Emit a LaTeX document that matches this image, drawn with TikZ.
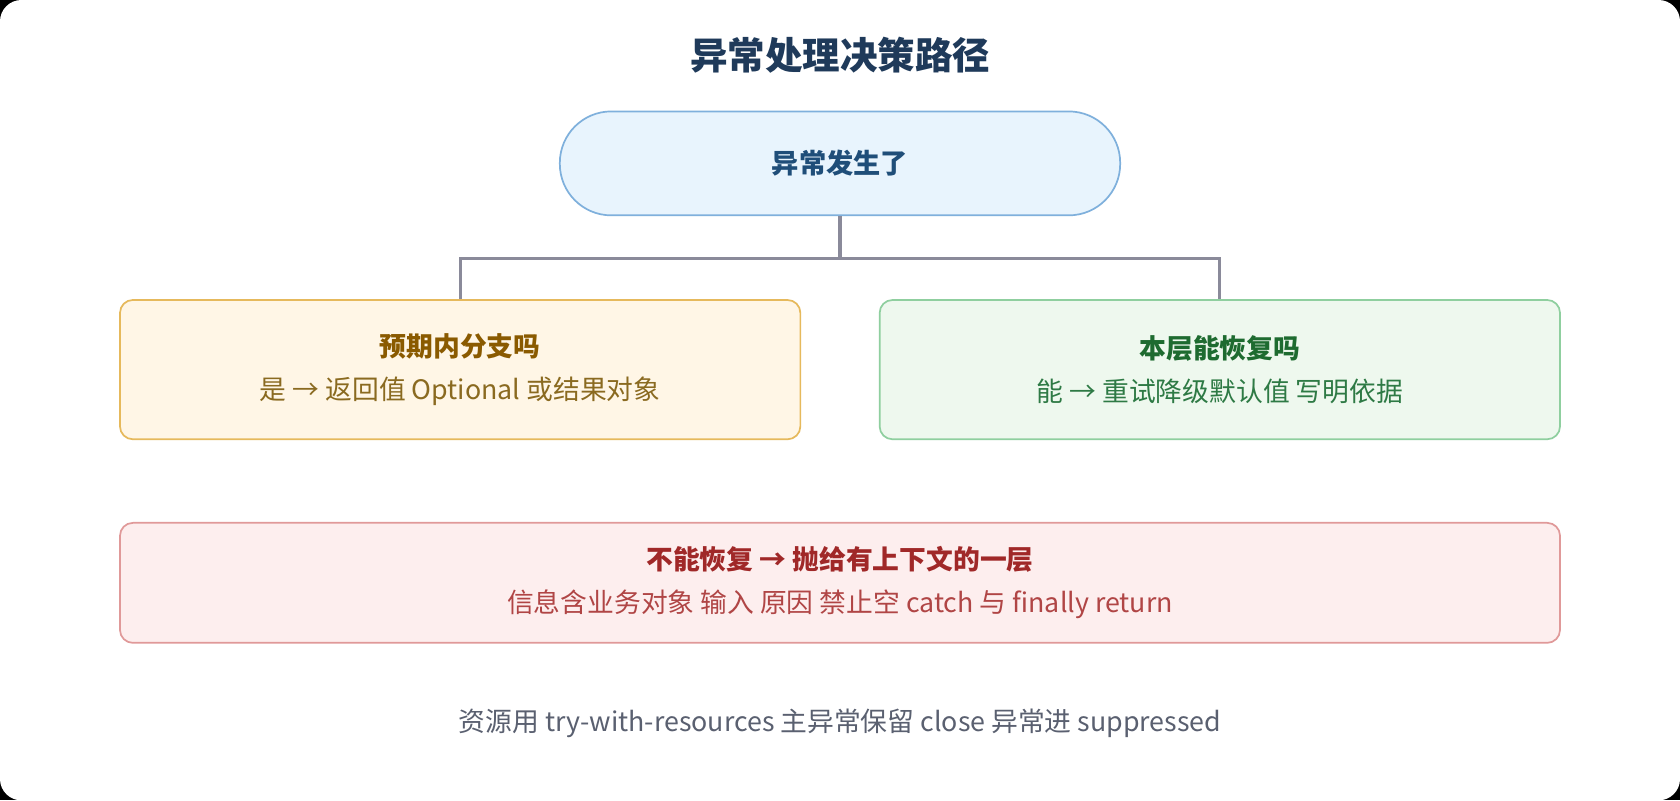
\documentclass[tikz,border=0pt]{standalone}
\usepackage{fontspec}
\setmainfont{Noto Sans CJK SC}
\usetikzlibrary{positioning}
\definecolor{titlec}{HTML}{1F3A5A}
\definecolor{linec}{HTML}{8A8A9A}
\definecolor{startfill}{HTML}{E8F4FD}
\definecolor{startdraw}{HTML}{7FB0DC}
\definecolor{starttext}{HTML}{1F4E79}
\definecolor{yfill}{HTML}{FFF6E6}
\definecolor{ydraw}{HTML}{E6B95C}
\definecolor{ytitle}{HTML}{8A5A00}
\definecolor{ytext}{HTML}{8A6A20}
\definecolor{gfill}{HTML}{EEF8EE}
\definecolor{gdraw}{HTML}{8FCF9F}
\definecolor{gtitle}{HTML}{1E6B30}
\definecolor{gtext}{HTML}{2E7A45}
\definecolor{rfill}{HTML}{FDEEEE}
\definecolor{rdraw}{HTML}{E09999}
\definecolor{rtitle}{HTML}{A02828}
\definecolor{rtext}{HTML}{B04545}
\definecolor{notec}{HTML}{5A6070}
\tikzset{
  box/.style={draw, line width=0.8pt, rounded corners=6pt, align=center, inner sep=0pt},
  link/.style={draw=linec, line width=1.5pt},
}
\begin{document}
\begin{tikzpicture}[x=0.5pt,y=-0.5pt]
   \fill[black] (0,0) rectangle (1568,747);
   \fill[white, rounded corners=10pt] (0,0) rectangle (1568,747);
   \useasboundingbox (0,0) rectangle (1568,747);
   \node[text=titlec, font=\fontsize{17.5}{20}\selectfont\bfseries] (title) at (784,52) {异常处理决策路径};
   \node[box, fill=startfill, draw=startdraw, rounded corners=24pt, minimum width=261.5pt, minimum height=48.5pt,
         text=starttext, font=\fontsize{12.7}{15}\selectfont\bfseries] (start) at (784,152.5) {异常发生了};
   \node[box, fill=yfill, draw=ydraw, minimum width=317.5pt, minimum height=65pt] (expect) at (429.5,345)
        {{\color{ytitle}\fontsize{12.5}{15}\selectfont\bfseries 预期内分支吗}\\[8pt]
         {\color{ytext}\fontsize{12.5}{15}\selectfont 是 → 返回值 Optional 或结果对象}};
   \node[box, fill=gfill, draw=gdraw, minimum width=317.5pt, minimum height=65pt] (recover) at (1138.5,345)
        {{\color{gtitle}\fontsize{12.5}{15}\selectfont\bfseries 本层能恢复吗}\\[8pt]
         {\color{gtext}\fontsize{12.5}{15}\selectfont 能 → 重试降级默认值 写明依据}};
   \node[box, fill=rfill, draw=rdraw, minimum width=672pt, minimum height=56pt] (throw) at (784,544)
        {{\color{rtitle}\fontsize{12.5}{15}\selectfont\bfseries 不能恢复 → 抛给有上下文的一层}\\[8pt]
         {\color{rtext}\fontsize{12.5}{15}\selectfont 信息含业务对象 输入 原因 禁止空 catch 与 finally return}};
   \node[text=notec, font=\fontsize{12.5}{15}\selectfont] (note) at (784,675)
        {资源用 try-with-resources 主异常保留 close 异常进 suppressed};
   \coordinate (split) at (784,241);
   \path[link] (start.south) -- (split);
   \path[link] (split) -| (expect.north);
   \path[link] (split) -| (recover.north);
\end{tikzpicture}
\end{document}
